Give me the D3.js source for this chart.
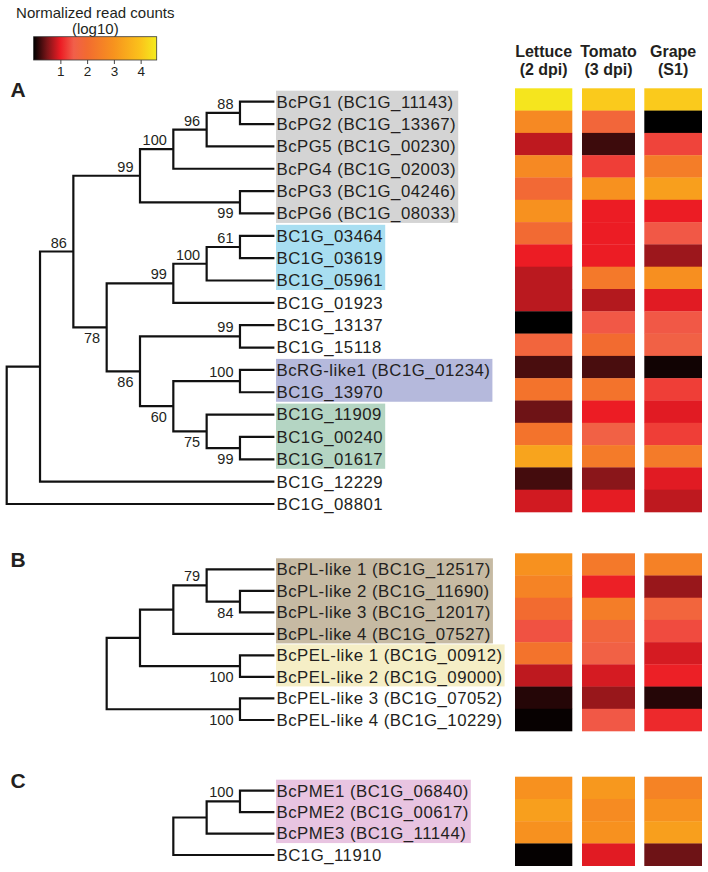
<!DOCTYPE html>
<html><head><meta charset="utf-8">
<script src="https://cdn.jsdelivr.net/npm/d3@7"></script>
<style>body{margin:0;background:#fff}svg{display:block}</style>
</head><body>
<svg id="c" width="708" height="872"></svg>
<script>
// ---------------- DATA ----------------
const conditions = ["Lettuce", "Tomato", "Grape"];
const conditionSub = ["(2 dpi)", "(3 dpi)", "(S1)"];
const legendTitle = ["Normalized read counts", "(log10)"];
const legendTicks = [1, 2, 3, 4];
const legendDomain = [0, 4.6];
const colorStops = [0, 0.5, 1, 1.5, 2, 3, 4, 4.6];
const colorHex = ["#000000", "#7a1518", "#ec1c24", "#f15f4a", "#f26b30", "#f7931e", "#fbc31b", "#f4ec1e"];

const genesA = ["BcPG1 (BC1G_11143)", "BcPG2 (BC1G_13367)", "BcPG5 (BC1G_00230)", "BcPG4 (BC1G_02003)",
  "BcPG3 (BC1G_04246)", "BcPG6 (BC1G_08033)", "BC1G_03464", "BC1G_03619", "BC1G_05961", "BC1G_01923",
  "BC1G_13137", "BC1G_15118", "BcRG-like1 (BC1G_01234)", "BC1G_13970", "BC1G_11909", "BC1G_00240",
  "BC1G_01617", "BC1G_12229", "BC1G_08801"];
const lettuceA = [4.5, 2.75, 0.8, 2.75, 1.9, 2.95, 1.95, 1.0, 0.78, 0.78, 0.0, 1.75, 0.3, 2.2, 0.45, 2.2, 3.35, 0.28, 0.88];
const tomatoA  = [4.1, 1.8, 0.25, 1.25, 2.95, 1.0, 1.0, 1.0, 2.35, 0.75, 1.45, 2.0, 0.3, 2.2, 1.0, 1.6, 2.4, 0.57, 0.97];
const grapeA   = [4.1, 0.0, 1.3, 2.45, 3.25, 1.0, 1.45, 0.65, 2.9, 0.95, 1.45, 1.6, 0.07, 1.25, 0.95, 1.25, 2.4, 0.95, 0.8];

const genesB = ["BcPL-like 1 (BC1G_12517)", "BcPL-like 2 (BC1G_11690)", "BcPL-like 3 (BC1G_12017)",
  "BcPL-like 4 (BC1G_07527)", "BcPEL-like 1 (BC1G_00912)", "BcPEL-like 2 (BC1G_09000)",
  "BcPEL-like 3 (BC1G_07052)", "BcPEL-like 4 (BC1G_10229)"];
const lettuceB = [2.95, 2.6, 2.0, 1.4, 2.2, 0.8, 0.15, 0.03];
const tomatoB  = [2.35, 1.03, 2.45, 1.75, 1.6, 0.9, 0.63, 1.45];
const grapeB   = [2.55, 0.63, 1.75, 1.35, 0.9, 1.03, 0.15, 1.1];

const genesC = ["BcPME1 (BC1G_06840)", "BcPME2 (BC1G_00617)", "BcPME3 (BC1G_11144)", "BC1G_11910"];
const lettuceC = [2.95, 3.25, 2.95, 0.02];
const tomatoC  = [3.1, 2.8, 2.95, 0.95];
const grapeC   = [2.6, 2.95, 3.25, 0.45];

// trees: n(bootstrap, ...children)
function n(support, ...children) {
  return {support, children: children.map(c => typeof c === "string" ? {name: c} : c)};
}
const treeA = n(null,
  n(null,
    n(86,
      n(99,
        n(100, n(96, n(88, genesA[0], genesA[1]), genesA[2]), genesA[3]),
        n(99, genesA[4], genesA[5])),
      n(78,
        n(99, n(100, n(61, genesA[6], genesA[7]), genesA[8]), genesA[9]),
        n(86,
          n(99, genesA[10], genesA[11]),
          n(60, n(100, genesA[12], genesA[13]), n(75, genesA[14], n(99, genesA[15], genesA[16])))))),
    genesA[17]),
  genesA[18]);
const treeB = n(null,
  n(null,
    n(null, n(79, genesB[0], n(84, genesB[1], genesB[2])), genesB[3]),
    n(100, genesB[4], genesB[5])),
  n(100, genesB[6], genesB[7]));
const treeC = n(null, n(null, n(100, genesC[0], genesC[1]), genesC[2]), genesC[3]);

// highlighted gene groups
const groupsA = [[genesA[0], genesA[5], "gray"], [genesA[6], genesA[8], "blue"], [genesA[12], genesA[13], "lavender"], [genesA[14], genesA[16], "green"]];
const groupsB = [[genesB[0], genesB[3], "tan"], [genesB[4], genesB[5], "cream"]];
const groupsC = [[genesC[0], genesC[2], "pink"]];

// ---------------- STYLE / LAYOUT ----------------
const groupColor = {gray: "#d4d4d4", blue: "#a8def1", lavender: "#b5b9dc", green: "#b4d5c3", tan: "#c6baa3", cream: "#f5eec6", pink: "#e8c4e1"};
const FONT = "'Liberation Sans', Arial, Helvetica, sans-serif";
const TXT = "#231f20";

const svg = d3.select("#c");
const color = d3.scaleLinear().domain(colorStops).range(colorHex).clamp(true);

// legend
const lg = svg.append("g");
lg.selectAll("text.lt").data(legendTitle).join("text")
  .attr("x", 95.3).attr("y", (d, i) => 18 + i * 16)
  .attr("text-anchor", "middle").attr("font-family", FONT).attr("font-size", 15).attr("fill", TXT).text(d => d);
const lx = d3.scaleLinear().domain(legendDomain).range([33.6, 156.7]);
const grad = svg.append("defs").append("linearGradient").attr("id", "lgrad");
grad.selectAll("stop").data(colorStops).join("stop")
  .attr("offset", d => (d - legendDomain[0]) / (legendDomain[1] - legendDomain[0]))
  .attr("stop-color", d => color(d));
lg.append("rect").attr("x", lx(legendDomain[0])).attr("y", 36.7)
  .attr("width", lx(legendDomain[1]) - lx(legendDomain[0])).attr("height", 23.3)
  .attr("fill", "url(#lgrad)").attr("stroke", "#3a3a3a").attr("stroke-width", 0.8);
const laxis = d3.axisBottom(lx).tickValues(legendTicks).tickSize(4).tickPadding(2.5).tickFormat(d3.format("d"));
const la = lg.append("g").attr("transform", "translate(0,60)").call(laxis);
la.select(".domain").remove();
la.selectAll("line").attr("stroke", "#444").attr("stroke-width", 1);
la.selectAll("text").attr("font-family", FONT).attr("font-size", 13.5).attr("fill", TXT);

// column headers
const colX = d3.scaleOrdinal().domain(conditions).range([515, 582, 644.3]);
const colW = d3.scaleOrdinal().domain(conditions).range([57.3, 53, 57.7]);
const hg = svg.append("g").attr("font-family", FONT).attr("font-weight", "bold").attr("font-size", 16).attr("fill", TXT).attr("text-anchor", "middle");
conditions.forEach((c, i) => {
  hg.append("text").attr("x", colX(c) + colW(c) / 2).attr("y", 57.3).text(c);
  hg.append("text").attr("x", colX(c) + colW(c) / 2).attr("y", 75).text(conditionSub[i]);
});

// panel letters
const letters = [["A", 97.3], ["B", 566.7], ["C", 787.7]];
svg.selectAll("text.pl").data(letters).join("text").attr("class", "pl")
  .attr("x", 10.5).attr("y", d => d[1]).attr("font-family", FONT).attr("font-weight", "bold")
  .attr("font-size", 21).attr("fill", TXT).text(d => d[0]);

const treeX = d3.scaleLinear().domain([0, 8]).range([273.3, 6.7]);

function panel(genes, tree, groups, vals, labelRange, heatRange) {
  const g = svg.append("g");
  const ly = d3.scalePoint().domain(genes).range(labelRange);
  const hy = d3.scaleBand().domain(genes).range(heatRange);

  const boxG = g.append("g");
  const labG = g.append("g");
  const labels = labG.selectAll("text").data(genes).join("text")
    .attr("x", 276.5).attr("y", d => ly(d)).attr("dy", "0.35em")
    .attr("font-family", FONT).attr("font-size", 16.8).attr("letter-spacing", 0.5)
    .attr("fill", TXT).text(d => d);
  const widths = {};
  labels.each(function (d) { widths[d] = this.getComputedTextLength(); });
  groups.forEach(([a, b, col]) => {
    const i0 = genes.indexOf(a), i1 = genes.indexOf(b);
    const w = d3.max(genes.slice(i0, i1 + 1), d => widths[d]);
    boxG.append("rect").attr("x", 276).attr("y", ly(a) - 11)
      .attr("width", w + 2.5).attr("height", ly(b) - ly(a) + 20.5)
      .attr("fill", groupColor[col]);
  });

  // tree
  const root = d3.hierarchy(tree);
  root.eachAfter(d => {
    d.px = treeX(d.height);
    d.py = d.children ? (d.children[0].py + d.children[d.children.length - 1].py) / 2 : ly(d.data.name);
  });
  const path = d3.path();
  root.descendants().forEach(d => {
    if (!d.children) return;
    const f = d.children[0], l = d.children[d.children.length - 1];
    path.moveTo(d.px, f.py); path.lineTo(d.px, l.py);
    d.children.forEach(c => { path.moveTo(d.px, c.py); path.lineTo(c.px, c.py); });
  });
  g.append("path").attr("d", path.toString()).attr("fill", "none")
    .attr("stroke", "#111").attr("stroke-width", 2.2).attr("stroke-linecap", "square");
  const sup = root.descendants().filter(d => d.data.support != null);
  g.selectAll("text.sup").data(sup).join("text").attr("class", "sup")
    .attr("x", d => d.px - 6.5)
    .attr("y", d => d.parent && d.parent.children[0] === d ? d.py - 4 : d.py + 16)
    .attr("text-anchor", "end").attr("font-family", FONT).attr("font-size", 14.5).attr("fill", TXT)
    .text(d => d.data.support);

  // heatmap
  const cells = [];
  conditions.forEach((c, ci) => genes.forEach((gn, gi) => cells.push({c, gn, v: vals[ci][gi]})));
  g.append("g").selectAll("rect").data(cells).join("rect")
    .attr("x", d => colX(d.c)).attr("y", d => hy(d.gn))
    .attr("width", d => colW(d.c)).attr("height", hy.bandwidth() + 0.3)
    .attr("fill", d => color(d.v));
}

panel(genesA, treeA, groupsA, [lettuceA, tomatoA, grapeA], [101.7, 504], [88.3, 512]);
panel(genesB, treeB, groupsB, [lettuceB, tomatoB, grapeB], [569.3, 720], [553.3, 731]);
panel(genesC, treeC, groupsC, [lettuceC, tomatoC, grapeC], [790.7, 855], [776.7, 865.7]);
</script>
</body></html>
